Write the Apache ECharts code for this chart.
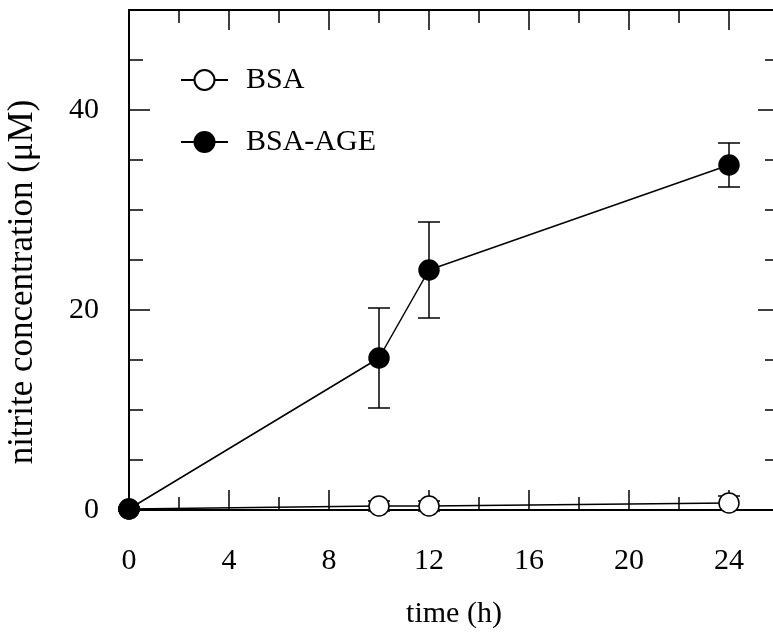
<!DOCTYPE html>
<html>
<head>
<meta charset="utf-8">
<script src="https://cdn.jsdelivr.net/npm/echarts@6/dist/echarts.min.js"></script>
<style>
  html, body { margin: 0; padding: 0; background: #fff; }
  #container { width: 773px; height: 635px; }
</style>
</head>
<body>
<div id="container"></div>
<script>
// data
const timeH = [0, 10, 12, 24];
const bsa = [0.1, 0.4, 0.4, 0.7];
const bsaErr = [0.2, 0.5, 0.5, 0.7];
const bsaAge = [0.1, 15.2, 24.0, 34.5];
const bsaAgeErr = [0, 5.0, 4.8, 2.2];
const seriesNames = ['BSA', 'BSA-AGE'];

const serif = "'Liberation Serif', 'Times New Roman', serif";

let dom = document.getElementById('container');
let myChart = echarts.init(dom, null, { renderer: 'canvas' });

function pairs(ys) {
    return timeH.map((t, i) => [t, ys[i]]);
}

function errRows(ys, es) {
    return timeH.map((t, i) => [t, ys[i] - es[i], ys[i] + es[i]]);
}

// vertical error bar with caps
function renderErr(params, api) {
    const top = api.coord([api.value(0), api.value(2)]);
    const bot = api.coord([api.value(0), api.value(1)]);
    const half = 11;
    const style = { stroke: '#000', lineWidth: 1.5 };
    return {
        type: 'group',
        children: [
            { type: 'line', shape: { x1: top[0], y1: top[1], x2: bot[0], y2: bot[1] }, style: style },
            { type: 'line', shape: { x1: top[0] - half, y1: top[1], x2: top[0] + half, y2: top[1] }, style: style },
            { type: 'line', shape: { x1: bot[0] - half, y1: bot[1], x2: bot[0] + half, y2: bot[1] }, style: style }
        ]
    };
}

function xAxisDef(pos, interval, tickLen, withLabels) {
    return {
        type: 'value',
        position: pos,
        min: 0,
        max: 26,
        interval: interval,
        axisLine: { show: true, onZero: false, lineStyle: { color: '#000', width: 2 } },
        axisTick: { show: true, inside: true, length: tickLen, lineStyle: { color: '#000', width: 1.5 } },
        axisLabel: withLabels ? {
            show: true, margin: 36, color: '#000', fontSize: 30, fontFamily: serif,
            formatter: (v) => (v <= 24 ? String(v) : '')
        } : { show: false },
        splitLine: { show: false },
        name: withLabels ? 'time (h)' : '',
        nameLocation: 'middle',
        nameGap: 89,
        nameTextStyle: { color: '#000', fontSize: 30, fontFamily: serif }
    };
}

function yAxisDef(pos, interval, tickLen, withLabels) {
    return {
        type: 'value',
        position: pos,
        min: 0,
        max: 50,
        interval: interval,
        axisLine: { show: true, onZero: false, lineStyle: { color: '#000', width: 2 } },
        axisTick: { show: true, inside: true, length: tickLen, lineStyle: { color: '#000', width: 1.5 } },
        axisLabel: withLabels ? {
            show: true, margin: 30, color: '#000', fontSize: 30, fontFamily: serif,
            formatter: (v) => (v <= 40 ? String(v) : '')
        } : { show: false },
        splitLine: { show: false },
        name: withLabels ? 'nitrite concentration (\u03bcM)' : '',
        nameLocation: 'middle',
        nameRotate: 90,
        nameGap: 89,
        nameTextStyle: { color: '#000', fontSize: 35, fontFamily: serif, padding: [0, 44, 0, 0] }
    };
}

const option = {
    animation: false,
    backgroundColor: '#fff',
    grid: { left: 129, top: 10, right: -6, bottom: 125, containLabel: false, outerBoundsMode: 'none' },
    legend: {
        orient: 'vertical',
        left: 180,
        top: 65,
        padding: 0,
        itemWidth: 47,
        itemHeight: 25,
        itemGap: 32,
        data: seriesNames,
        textStyle: { color: '#000', fontSize: 30, fontFamily: serif, lineHeight: 30, padding: [0, 0, 0, 13] }
    },
    xAxis: [
        xAxisDef('bottom', 4, 20, true),
        xAxisDef('bottom', 2, 13, false),
        xAxisDef('top', 4, 20, false),
        xAxisDef('top', 2, 13, false)
    ],
    yAxis: [
        yAxisDef('left', 20, 21, true),
        yAxisDef('left', 5, 14, false),
        yAxisDef('right', 20, 21, false),
        yAxisDef('right', 5, 14, false)
    ],
    series: [
        {
            type: 'custom',
            renderItem: renderErr,
            data: errRows(bsa, bsaErr),
            encode: { x: 0, y: [1, 2] },
            z: 1,
            clip: false,
            silent: true
        },
        {
            type: 'custom',
            renderItem: renderErr,
            data: errRows(bsaAge, bsaAgeErr),
            encode: { x: 0, y: [1, 2] },
            z: 1,
            clip: false,
            silent: true
        },
        {
            name: seriesNames[0],
            type: 'line',
            data: pairs(bsa),
            symbol: 'circle',
            symbolSize: 20,
            clip: false,
            z: 3,
            itemStyle: { color: '#fff', borderColor: '#000', borderWidth: 1.5 },
            lineStyle: { color: '#000', width: 1.5 }
        },
        {
            name: seriesNames[1],
            type: 'line',
            data: pairs(bsaAge),
            symbol: 'circle',
            symbolSize: 20,
            clip: false,
            z: 4,
            itemStyle: { color: '#000', borderColor: '#000', borderWidth: 1.5 },
            lineStyle: { color: '#000', width: 1.5 }
        }
    ]
};

myChart.setOption(option);
</script>
</body>
</html>
